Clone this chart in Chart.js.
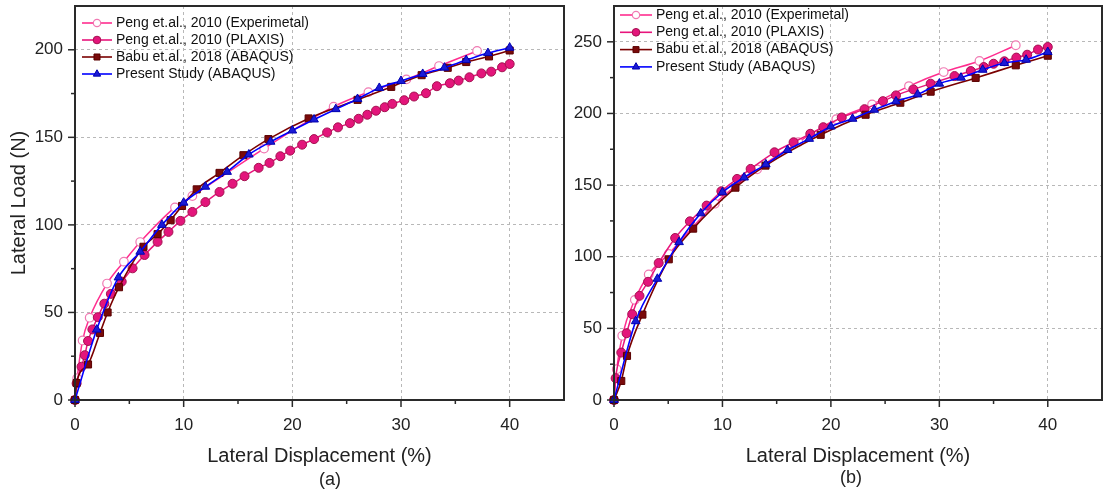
<!DOCTYPE html>
<html><head><meta charset="utf-8">
<script src="https://cdn.jsdelivr.net/npm/chart.js@4.4.1/dist/chart.umd.min.js"></script>
<style>
html,body{margin:0;padding:0;background:#fff;width:1108px;height:489px;overflow:hidden;font-family:"Liberation Sans",Arial,sans-serif}
#ca{position:absolute;left:0;top:0;width:570px;height:489px}
#cb{position:absolute;left:570px;top:0;width:538px;height:489px}
.cap{position:absolute;font-size:18px;line-height:20px;color:#222;transform:translateX(-50%);white-space:nowrap}
</style></head><body>
<canvas id="ca" width="570" height="489"></canvas>
<canvas id="cb" width="538" height="489"></canvas>
<div class="cap" style="left:330px;top:469px">(a)</div>
<div class="cap" style="left:851px;top:467px">(b)</div>
<script>
// ---------- labels ----------
const seriesLabels = ['Peng et.al., 2010 (Experimetal)', 'Peng et.al., 2010 (PLAXIS)', 'Babu et.al., 2018 (ABAQUS)', 'Present Study (ABAQUS)'];
const xTitle = 'Lateral Displacement (%)';
const yTitle = 'Lateral Load (N)';
const xTickLabels = [0, 10, 20, 30, 40];
const yTickLabelsA = [0, 50, 100, 150, 200];
const yTickLabelsB = [0, 50, 100, 150, 200, 250];

// ---------- panel (a) ----------
const expA_x = [0, 0.2, 0.7, 1.35, 2.95, 4.5, 6.0, 9.2, 10.8, 17.4, 23.8, 27.0, 30.5, 33.5, 37.0];
const expA_y = [0, 12.5, 34, 47, 66.5, 79, 90.2, 110, 116.5, 143.6, 167.5, 175.8, 183.1, 190.7, 199.3];
const plaxA_x = [0, 0.15, 0.6, 0.9, 1.2, 1.6, 2.1, 2.7, 3.3, 4.3, 5.3, 6.4, 7.6, 8.6, 9.7, 10.8, 12.0, 13.3, 14.5, 15.6, 16.9, 17.9, 18.9, 19.8, 20.9, 22.0, 23.2, 24.2, 25.3, 26.1, 26.9, 27.7, 28.5, 29.2, 30.3, 31.2, 32.3, 33.3, 34.5, 35.3, 36.3, 37.4, 38.3, 39.3, 40.0];
const plaxA_y = [0, 9.5, 19, 25.6, 33.7, 40.3, 47.3, 55, 60.6, 67.6, 75.2, 82.8, 90.3, 96, 102.3, 107.4, 113, 118.8, 123.5, 127.8, 132.6, 135.4, 139.2, 142.4, 145.8, 149, 152.8, 155.7, 158.1, 160.6, 162.9, 165.2, 167.2, 169.1, 171.2, 173.3, 175.2, 179.2, 180.9, 182.4, 184.3, 186.5, 187.5, 190, 191.9];
const babuA_x = [0, 0.15, 1.2, 2.3, 3.0, 4.05, 6.3, 7.6, 8.8, 9.85, 11.2, 13.3, 15.5, 17.8, 21.5, 26.0, 29.1, 31.9, 34.3, 36.0, 38.1, 40.0];
const babuA_y = [0, 9.7, 20.3, 38.3, 50, 64.4, 87.5, 94.7, 102.7, 110.8, 120.3, 129.7, 139.8, 149, 160.8, 171.4, 178.8, 185.5, 189.7, 193, 196.2, 199.6];
const presA_x = [0, 2, 4, 6, 8, 10, 12, 14, 16, 18, 20, 22, 24, 26, 28, 30, 32, 34, 36, 38, 40];
const presA_y = [0, 40.2, 70, 84.7, 100, 112.7, 121.8, 130.3, 140.2, 147.5, 153.9, 160.2, 166.1, 171.9, 178.2, 182.2, 186.2, 189.8, 194.1, 198.1, 201.2];

// ---------- panel (b) ----------
const expB_x = [0, 0.25, 0.76, 1.92, 3.2, 5.05, 9.3, 13.2, 17.0, 20.5, 23.8, 27.2, 30.4, 33.7, 37.05];
const expB_y = [0, 21.5, 44.8, 69.9, 87.6, 102, 137, 161, 180, 196, 206.3, 219.1, 228.9, 236.6, 247.6];
const plaxB_x = [0, 0.15, 0.67, 1.16, 1.68, 2.35, 3.14, 4.12, 5.64, 7.0, 8.54, 9.9, 11.35, 12.6, 14.8, 16.56, 18.1, 19.3, 21.0, 23.1, 24.8, 26.0, 27.6, 29.2, 31.4, 32.9, 34.1, 35.0, 36.0, 37.1, 38.1, 39.1, 40.0];
const plaxB_y = [0, 15.2, 33.1, 46.6, 59.9, 72.7, 82.5, 95.6, 113.1, 124.7, 135.7, 145.7, 154.3, 161.3, 172.9, 179.9, 185.8, 190.4, 197.2, 203, 208.6, 212.6, 216.8, 220.8, 226.1, 229.6, 232.4, 234.7, 236.4, 239, 241, 244.6, 246.4];
const babuB_x = [0, 0.67, 1.2, 2.62, 5.05, 7.3, 11.2, 13.97, 19.06, 23.2, 26.4, 29.2, 33.35, 37.05, 40.0];
const babuB_y = [0, 13.3, 30.8, 59.6, 98.2, 119.6, 148.2, 163.6, 185.1, 199.1, 207.5, 215.2, 224.8, 233.6, 240.3];
const presB_x = [0, 2, 4, 6, 8, 10, 12, 14, 16, 18, 20, 22, 24, 26, 28, 30, 32, 34, 36, 38, 40];
const presB_y = [0, 55, 84.6, 110.2, 130.3, 145, 155.3, 164.5, 174.5, 182.3, 190.9, 196.3, 202.6, 208.4, 213.3, 220.8, 225, 230.5, 235.2, 237.5, 242.9];

// ---------- styles ----------
const FF = '"Liberation Sans", Arial, sans-serif';
const STY = [
  {line:'#ff2d8f', fill:'#ffffff', border:'#f07ab3', style:'circle',   r:4.3, bw:1.2, lw:1.5, order:3},
  {line:'#e8157c', fill:'#e3157b', border:'#a3114f', style:'circle',   r:4.5, bw:1,   lw:1.5, order:2},
  {line:'#7a0000', fill:'#7a0a0a', border:'#5a0000', style:'rect',     r:5,   bw:1,   lw:1.6, order:1},
  {line:'#0000ff', fill:'#1a1ad6', border:'#0000b0', style:'triangle', r:5,   bw:1,   lw:1.6, order:0}
];

function pts(xs, ys){ return xs.map((x,i)=>({x:x, y:ys[i]})); }

function drawMarker(ctx, s, x, y, r){
  ctx.beginPath();
  if (s.style === 'circle') ctx.arc(x, y, r, 0, Math.PI*2);
  else if (s.style === 'rect') { const h = r*Math.SQRT1_2; ctx.rect(x-h, y-h, 2*h, 2*h); }
  else { ctx.moveTo(x, y-r); ctx.lineTo(x+r*0.866, y+r*0.5); ctx.lineTo(x-r*0.866, y+r*0.5); ctx.closePath(); }
  ctx.fillStyle = s.fill; ctx.fill();
  ctx.lineWidth = s.bw; ctx.strokeStyle = s.border; ctx.stroke();
}

const framePlugin = {
  id: 'frame',
  afterDraw(chart, args, o){
    const {ctx, chartArea:a, scales:{x, y}} = chart;
    ctx.save();
    ctx.strokeStyle = '#2a2a2a'; ctx.lineWidth = 1.5;
    x.ticks.forEach(t => {
      if (t.value >= x.max) return;
      const px = x.getPixelForValue(t.value); const len = (t.value % 10 === 0) ? 7 : 4;
      ctx.beginPath(); ctx.moveTo(px, a.bottom); ctx.lineTo(px, a.bottom+len); ctx.stroke();
    });
    y.ticks.forEach(t => {
      if (t.value >= y.max) return;
      const py = y.getPixelForValue(t.value); const len = (t.value % 50 === 0) ? 7 : 4;
      ctx.beginPath(); ctx.moveTo(a.left-len, py); ctx.lineTo(a.left, py); ctx.stroke();
    });
    ctx.lineWidth = 2;
    ctx.strokeRect(a.left, a.top, a.right-a.left, a.bottom-a.top);
    // legend
    ctx.font = '14px ' + FF; ctx.textBaseline = 'middle'; ctx.textAlign = 'left'; ctx.fillStyle = '#111';
    chart.data.datasets.forEach((d, i) => {
      const s = STY[i]; const yy = o.y0 + i*o.dy;
      ctx.strokeStyle = s.line; ctx.lineWidth = 1.6;
      ctx.beginPath(); ctx.moveTo(o.x0, yy); ctx.lineTo(o.x0+o.len, yy); ctx.stroke();
      drawMarker(ctx, s, o.x0+o.len/2, yy, s.r*0.85);
      ctx.fillStyle = '#111';
      ctx.fillText(d.label, o.x0+o.len+4, yy);
    });
    ctx.restore();
  }
};

function makeChart(id, series, ymax, yLabels, showYTitle, yw, padR, leg){
  const datasets = series.map((p, i) => {
    const s = STY[i];
    return {
      label: seriesLabels[i], data: p, order: s.order,
      borderColor: s.line, borderWidth: s.lw,
      pointStyle: s.style, pointRadius: s.r, pointBackgroundColor: s.fill,
      pointBorderColor: s.border, pointBorderWidth: s.bw, pointHoverRadius: s.r,
      cubicInterpolationMode: 'monotone', fill: false, clip: false
    };
  });
  return new Chart(document.getElementById(id), {
    type: 'line',
    data: { datasets },
    plugins: [framePlugin],
    options: {
      responsive: false, animation: false, devicePixelRatio: 1,
      layout: { padding: { top: 3, right: padR, left: 0, bottom: 0 } },
      plugins: { legend: { display: false }, tooltip: { enabled: false }, frame: leg },
      scales: {
        x: {
          type: 'linear', min: 0, max: 45,
          ticks: { stepSize: 5, autoSkip: false, maxRotation: 0, padding: 15, color: '#222',
                   font: { size: 17, family: FF },
                   callback: v => xTickLabels.includes(v) ? String(v) : '' },
          grid: { drawTicks: false, lineWidth: 1,
                  color: c => (c.tick && xTickLabels.includes(c.tick.value) && c.tick.value > 0) ? '#b8b8b8' : 'rgba(0,0,0,0)' },
          border: { display: false, dash: [3, 3] },
          title: { display: true, text: xTitle, color: '#222', font: { size: 20, family: FF }, padding: { top: 0, bottom: 21 } },
          afterFit: s => { s.height = 89; s.paddingLeft = 0; s.paddingRight = 0; }
        },
        y: {
          type: 'linear', min: 0, max: ymax,
          ticks: { stepSize: 25, autoSkip: false, padding: 12, color: '#222',
                   font: { size: 17, family: FF },
                   callback: v => yLabels.includes(v) ? String(v) : '' },
          grid: { drawTicks: false, lineWidth: 1,
                  color: c => (c.tick && yLabels.includes(c.tick.value) && c.tick.value > 0) ? '#b8b8b8' : 'rgba(0,0,0,0)' },
          border: { display: false, dash: [3, 3] },
          title: { display: showYTitle, text: yTitle, color: '#222', font: { size: 20, family: FF }, padding: { top: 7, bottom: 0 } },
          afterFit: s => { s.width = yw; s.paddingTop = 0; s.paddingBottom = 0; }
        }
      }
    }
  });
}

makeChart('ca', [pts(expA_x, expA_y), pts(plaxA_x, plaxA_y), pts(babuA_x, babuA_y), pts(presA_x, presA_y)],
  225, yTickLabelsA, true, 75, 1, { x0: 82, y0: 23, dy: 17, len: 30 });
makeChart('cb', [pts(expB_x, expB_y), pts(plaxB_x, plaxB_y), pts(babuB_x, babuB_y), pts(presB_x, presB_y)],
  275, yTickLabelsB, false, 44, 0, { x0: 50, y0: 15, dy: 17.3, len: 32 });
</script>
</body></html>
